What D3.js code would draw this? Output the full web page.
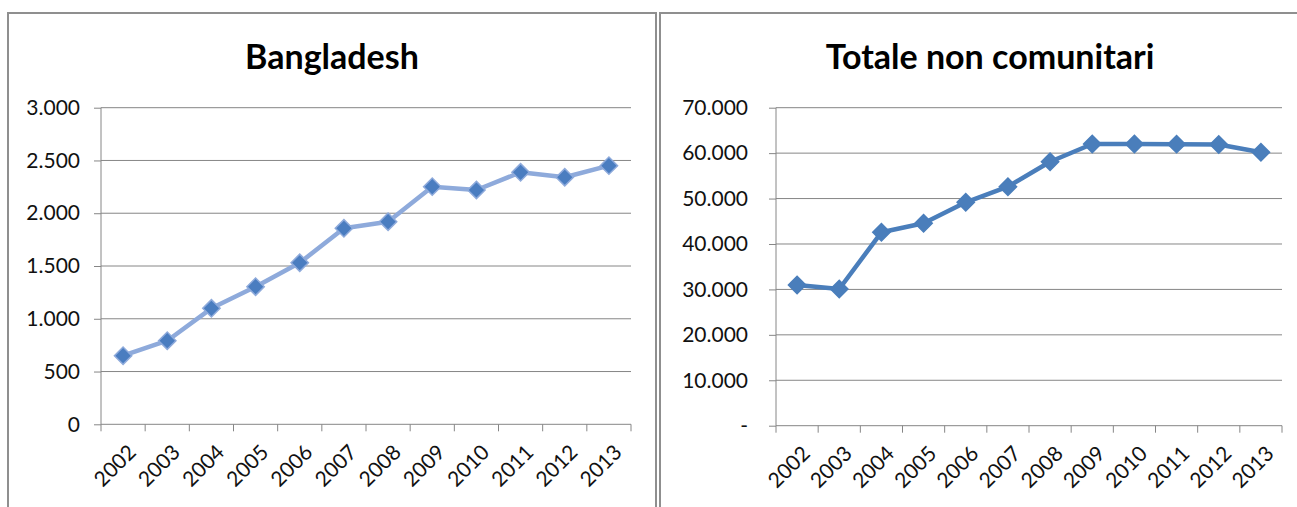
<!DOCTYPE html>
<html><head><meta charset="utf-8">
<script src="https://cdn.jsdelivr.net/npm/d3@7"></script>
<style>body{margin:0;background:#fff}svg{display:block}</style></head>
<body>
<svg id="c" width="1297" height="507"></svg>
<script>
const years = ["2002","2003","2004","2005","2006","2007","2008","2009","2010","2011","2012","2013"];
const bangladesh = [650, 792, 1099, 1304, 1531, 1857, 1920, 2252, 2220, 2388, 2341, 2451];
const totaleNonComunitari = [30970, 30090, 42570, 44550, 49170, 52610, 58110, 62010, 62000, 61980, 61900, 60180];
const bangladeshTicks = [0, 500, 1000, 1500, 2000, 2500, 3000];
const totaleTicks = [0, 10000, 20000, 30000, 40000, 50000, 60000, 70000];
const titles = ["Bangladesh", "Totale non comunitari"];

const loc = d3.formatLocale({decimal: ",", thousands: ".", grouping: [3], currency: ["", "€"]});
const fmt = loc.format(",");
const svg = d3.select("#c");
const FONT = "Lato, 'Open Sans', sans-serif";

svg.append("rect").attr("width", 1297).attr("height", 507).attr("fill", "#fff");

const panels = [
  {title: titles[0], values: bangladesh, ticks: bangladeshTicks, max: 3000,
   frame: [8, 13, 648, 520], plot: {x0: 101, x1: 631, y0: 107.7, y1: 424.3}, labelGap: 21,
   zero: "0", line: "#8eaadb", marker: "#4a7dc0", markerStroke: "#8eaadb", lineW: 4.5, titleX: 332, msize: 150},
  {title: titles[1], values: totaleNonComunitari, ticks: totaleTicks, max: 70000,
   frame: [660, 13, 660, 520], plot: {x0: 776, x1: 1282, y0: 107.7, y1: 425.7}, labelGap: 28,
   zero: "-", line: "#4a7ebb", marker: "#4a7ebb", markerStroke: "#4a7ebb", lineW: 4.5, titleX: 990, msize: 150}
];

panels.forEach(p => {
  const g = svg.append("g");
  g.append("rect").attr("x", p.frame[0]).attr("y", p.frame[1]).attr("width", p.frame[2]).attr("height", p.frame[3])
    .attr("fill", "#fff").attr("stroke", "#8f8f8f").attr("stroke-width", 2);

  g.append("text").attr("x", p.titleX).attr("y", 69).attr("text-anchor", "middle")
    .attr("font-family", FONT).attr("font-weight", "bold").attr("font-size", 34).attr("fill", "#000")
    .text(p.title);

  const x = d3.scaleBand().domain(years).range([p.plot.x0, p.plot.x1]).padding(0);
  const y = d3.scaleLinear().domain([0, p.max]).range([p.plot.y1, p.plot.y0]);

  const yAxis = d3.axisLeft(y).tickValues(p.ticks).tickSize(7).tickPadding(p.labelGap - 7)
    .tickFormat(d => d === 0 ? p.zero : fmt(d));
  const ya = g.append("g").attr("transform", `translate(${p.plot.x0},0)`).call(yAxis);
  ya.select(".domain").remove();
  ya.selectAll(".tick line").attr("stroke", "#868686");
  ya.selectAll(".tick text").attr("font-family", FONT).attr("font-size", 21).attr("fill", "#111");
  g.append("g").selectAll("line").data(p.ticks.filter(d => d > 0)).join("line")
    .attr("x1", p.plot.x0).attr("x2", p.plot.x1).attr("y1", d => y(d)).attr("y2", d => y(d))
    .attr("stroke", "#868686").attr("stroke-width", 1);
  g.append("line").attr("x1", p.plot.x0).attr("x2", p.plot.x0).attr("y1", p.plot.y0).attr("y2", p.plot.y1)
    .attr("stroke", "#868686");
  g.append("line").attr("x1", p.plot.x0).attr("x2", p.plot.x1).attr("y1", p.plot.y1).attr("y2", p.plot.y1)
    .attr("stroke", "#868686");
  const edges = years.map(d => x(d)).concat([p.plot.x1]);
  g.append("g").selectAll("line").data(edges).join("line")
    .attr("x1", d => d).attr("x2", d => d).attr("y1", p.plot.y1).attr("y2", p.plot.y1 + 7)
    .attr("stroke", "#868686");
  g.append("g").selectAll("text").data(years).join("text")
    .attr("transform", d => `translate(${x(d) + x.bandwidth() / 2 + 9},${p.plot.y1 + 24}) rotate(-45)`)
    .attr("text-anchor", "end").attr("dy", "0.35em")
    .attr("font-family", FONT).attr("font-size", 21).attr("fill", "#111").text(d => d);

  const line = d3.line().x((d, i) => x(years[i]) + x.bandwidth() / 2).y(d => y(d));
  g.append("path").datum(p.values).attr("d", line).attr("fill", "none")
    .attr("stroke", p.line).attr("stroke-width", p.lineW).attr("stroke-linejoin", "round");
  g.append("g").selectAll("path").data(p.values).join("path")
    .attr("d", d3.symbol(d3.symbolSquare, p.msize)())
    .attr("transform", (d, i) => `translate(${x(years[i]) + x.bandwidth() / 2},${y(d)}) rotate(45)`)
    .attr("fill", p.marker).attr("stroke", p.markerStroke).attr("stroke-width", 1.5);
});
</script>
</body></html>
